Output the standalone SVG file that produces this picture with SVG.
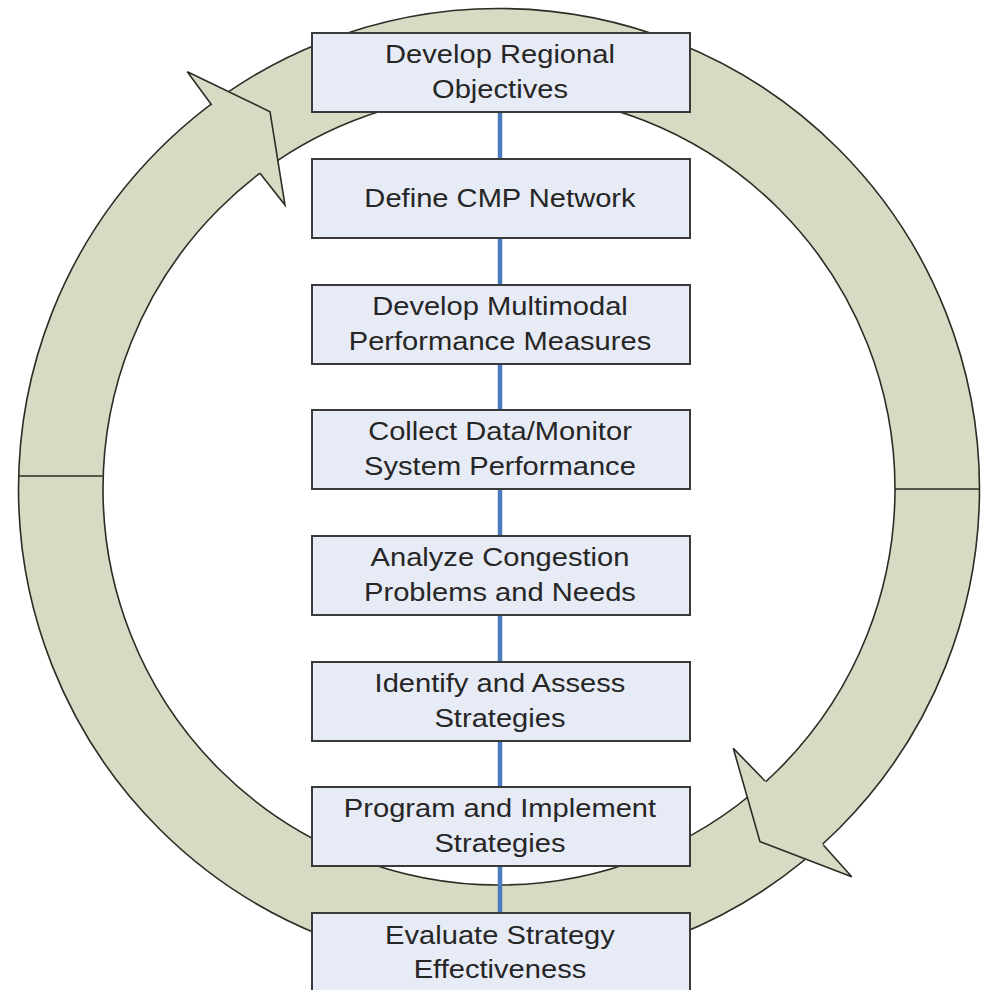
<svg xmlns="http://www.w3.org/2000/svg" width="986" height="990" viewBox="0 0 986 990">
<style>
.ring{fill:#d8dbc4;stroke:none}
.edge{fill:none;stroke:#2b2d24;stroke-width:1.6}
.head{fill:#d8dbc4;stroke:none}
.headline{fill:none;stroke:#2b2d24;stroke-width:1.6;stroke-linejoin:miter}
.box{fill:#e7ebf5;stroke:#3a3a3a;stroke-width:2}
.conn{stroke:#4a7cbd;stroke-width:4.5;fill:none}
.lbl{font-family:"Liberation Sans",Arial,sans-serif;font-size:26px;fill:#262626;text-anchor:middle}
</style>
<rect width="986" height="990" fill="#ffffff"/>
<g id="cycle">
<path class="ring" fill-rule="evenodd" d="M18.5,489 A480.5,480.5 0 1,0 979.5,489 A480.5,480.5 0 1,0 18.5,489 Z M103,489 A396,396 0 1,0 895,489 A396,396 0 1,0 103,489 Z"/>
<circle class="edge" cx="499" cy="489" r="480.5"/>
<circle class="edge" cx="499" cy="489" r="396"/>
<line class="edge" x1="18.6" y1="476" x2="103.2" y2="476"/>
<line class="edge" x1="895" y1="489" x2="979.5" y2="489"/>
<polygon class="head" points="211.7,105 187.3,71.7 270,111.7 285,205 260,173.3"/>
<polyline class="headline" points="211.7,105 187.3,71.7 270,111.7 285,205 260,173.3"/>
<polygon class="head" points="765,781 733.3,748.3 760,841.7 851.7,876.7 823.3,845"/>
<polyline class="headline" points="765,781 733.3,748.3 760,841.7 851.7,876.7 823.3,845"/>
</g>
<g id="connectors">
<line class="conn" x1="500" y1="112" x2="500" y2="159"/>
<line class="conn" x1="500" y1="238" x2="500" y2="285"/>
<line class="conn" x1="500" y1="364" x2="500" y2="410"/>
<line class="conn" x1="500" y1="489" x2="500" y2="536"/>
<line class="conn" x1="500" y1="615" x2="500" y2="662"/>
<line class="conn" x1="500" y1="741" x2="500" y2="787"/>
<line class="conn" x1="500" y1="866" x2="500" y2="913"/>
</g>
<g id="node1">
<rect class="box" x="312" y="33" width="378" height="79"/>
<text class="lbl" transform="matrix(1.12 0 0 1 -60 0)"><tspan x="500" y="63.5">Develop Regional</tspan><tspan x="500" y="98.5">Objectives</tspan></text>
</g>
<g id="node2">
<rect class="box" x="312" y="159" width="378" height="79"/>
<text class="lbl" transform="matrix(1.12 0 0 1 -60 0)" x="500" y="207">Define CMP Network</text>
</g>
<g id="node3">
<rect class="box" x="312" y="285" width="378" height="79"/>
<text class="lbl" transform="matrix(1.12 0 0 1 -60 0)"><tspan x="500" y="315.5">Develop Multimodal</tspan><tspan x="500" y="350.5">Performance Measures</tspan></text>
</g>
<g id="node4">
<rect class="box" x="312" y="410" width="378" height="79"/>
<text class="lbl" transform="matrix(1.12 0 0 1 -60 0)"><tspan x="500" y="440">Collect Data/Monitor</tspan><tspan x="500" y="475">System Performance</tspan></text>
</g>
<g id="node5">
<rect class="box" x="312" y="536" width="378" height="79"/>
<text class="lbl" transform="matrix(1.12 0 0 1 -60 0)"><tspan x="500" y="566.5">Analyze Congestion</tspan><tspan x="500" y="601.5">Problems and Needs</tspan></text>
</g>
<g id="node6">
<rect class="box" x="312" y="662" width="378" height="79"/>
<text class="lbl" transform="matrix(1.12 0 0 1 -60 0)"><tspan x="500" y="692.5">Identify and Assess</tspan><tspan x="500" y="727.5">Strategies</tspan></text>
</g>
<g id="node7">
<rect class="box" x="312" y="787" width="378" height="79"/>
<text class="lbl" transform="matrix(1.12 0 0 1 -60 0)"><tspan x="500" y="817">Program and Implement</tspan><tspan x="500" y="852.5">Strategies</tspan></text>
</g>
<g id="node8">
<rect class="box" x="312" y="913" width="378" height="90"/>
<text class="lbl" transform="matrix(1.12 0 0 1 -60 0)"><tspan x="500" y="944.5">Evaluate Strategy</tspan><tspan x="500" y="978.5">Effectiveness</tspan></text>
</g>
</svg>
